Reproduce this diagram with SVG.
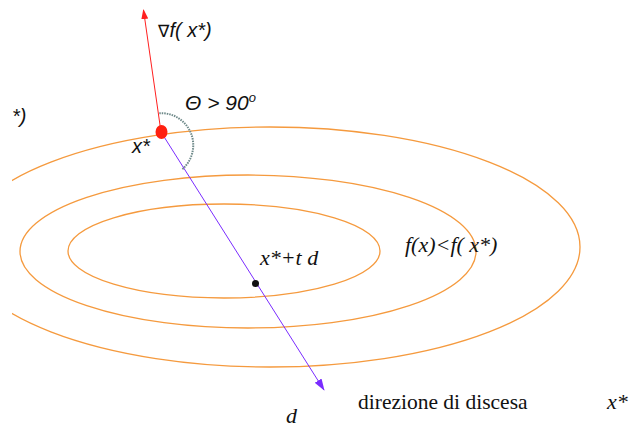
<svg xmlns="http://www.w3.org/2000/svg" width="629" height="429" viewBox="0 0 629 429">
<style>
.lvl{fill:none;stroke:#f59a3e;stroke-width:1.3}
.sans{font-family:"Liberation Sans",Arial,sans-serif;font-style:italic;fill:#111}
.serif{font-family:"Liberation Serif","Times New Roman",serif;fill:#111}
</style>
<defs>
<marker id="ar" markerWidth="10" markerHeight="10" refX="9" refY="5" orient="auto" markerUnits="userSpaceOnUse"><path d="M0,1.5 L10,5 L0,8.5 Z" fill="#ff2020"/></marker>
<marker id="ap" markerWidth="12" markerHeight="10" refX="11" refY="5" orient="auto" markerUnits="userSpaceOnUse"><path d="M0,1 L12,5 L0,9 Z" fill="#7a2cff"/></marker>
<clipPath id="c"><rect x="12" y="0" width="617" height="429"/></clipPath>
</defs>
<rect width="629" height="429" fill="#fff"/>
<g id="levels" clip-path="url(#c)">
<ellipse class="lvl" cx="224" cy="251" rx="156" ry="47"/>
<ellipse class="lvl" cx="248" cy="251.5" rx="228" ry="76.5"/>
<ellipse class="lvl" cx="270" cy="247" rx="310" ry="120"/>
</g>
<g id="connectors">
<line x1="161" y1="132" x2="143.5" y2="10" stroke="#ff2020" stroke-width="1" marker-end="url(#ar)"/>
<line x1="161" y1="132" x2="324" y2="390" stroke="#7a2cff" stroke-width="1" marker-end="url(#ap)"/>
<path d="M159.3,113.2 A32,32 0 0 1 182,169.5" fill="none" stroke="#6f8a8a" stroke-width="2" stroke-dasharray="1.5,1"/>
</g>
<g id="xstar">
<ellipse cx="161.5" cy="132" rx="6" ry="7" fill="#ff2010"/>
<text class="sans" x="132" y="153" font-size="20">x*</text>
</g>
<g id="xtd">
<circle cx="255.5" cy="283.5" r="3.5" fill="#111"/>
<text class="serif" x="260" y="265" font-size="22" font-style="italic">x*+t d</text>
</g>
<text class="sans" x="158" y="37" font-size="20"><tspan font-family="DejaVu Sans" font-style="normal" font-size="17">∇</tspan>f( x*)</text>
<text class="sans" x="185" y="110" font-size="21">Θ &gt; 90<tspan font-size="13" dy="-8">o</tspan></text>
<text class="sans" x="12" y="123" font-size="20">*)</text>
<text class="serif" x="405" y="252" font-size="22" font-style="italic">f(x)&lt;f( x*)</text>
<text class="serif" x="286" y="423" font-size="22" font-style="italic">d</text>
<text class="serif" x="358" y="409" font-size="21.5">direzione di discesa</text>
<text class="serif" x="607" y="409" font-size="22" font-style="italic">x*</text>
</svg>
